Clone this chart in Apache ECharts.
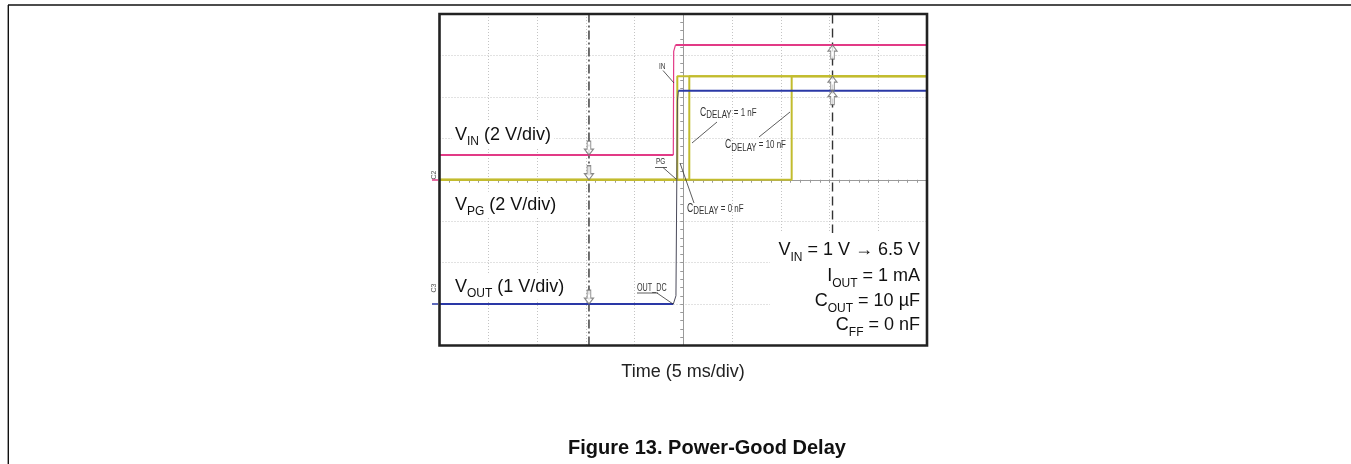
<!DOCTYPE html>
<html><head><meta charset="utf-8">
<script src="https://cdn.jsdelivr.net/npm/echarts@6/dist/echarts.min.js"></script>
<style>html,body{margin:0;padding:0;background:#fff}#c{width:1351px;height:464px}</style>
</head><body><div id="c"></div>
<script>
// ---- data (time in ms, 5 ms/div, 0 = screen centre; voltages in V) ----
const timeRange = [-25, 25];
const vinTime  = [-25, -1.02, -0.98, -0.8, 25];
const vinVolts = [1.19, 1.19, 6.2, 6.5, 6.5];
const pgDelays = ['0 nF', '1 nF', '10 nF'];
const pgRiseTime = [-0.61, 0.62, 11.12];
const pgLowHigh = [0, 5.0];
const voutTime  = [-25, -1.02, -0.75, -0.6, -0.5, 25];
const voutVolts = [0, 0, 0.2, 4.9, 5.15, 5.15];
const cursorTimes = [-9.67, 15.31];
const conditions = [
  ['V', 'IN', ' = 1 V \u2192 6.5 V'],
  ['I', 'OUT', ' = 1 mA'],
  ['C', 'OUT', ' = 10 \u00b5F'],
  ['C', 'FF', ' = 0 nF']
];
const channelLabels = [['V', 'IN', ' (2 V/div)'], ['V', 'PG', ' (2 V/div)'], ['V', 'OUT', ' (1 V/div)']];
const xAxisTitle = 'Time (5 ms/div)';
const figureTitle = 'Figure 13. Power-Good Delay';

const FONT = '"Liberation Sans", Arial, sans-serif';
const C_VIN = '#e23a86', C_PG = '#c2bc2e', C_OUT = '#2a38a6';

const zip = (a, b) => a.map((v, i) => [v, b[i]]);

const chart = echarts.init(document.getElementById('c'), null, {renderer: 'canvas'});

const G = {left: 439.5, top: 14, width: 487.5, height: 331.5};

const arrowDown = 'path://M3,0 L7,0 L7,8 L10,8 L5,14 L0,8 L3,8 Z';
const arrowUp = 'path://M5,0 L10,6 L7,6 L7,14 L3,14 L3,6 L0,6 Z';
const arrowStyle = {color: '#fff', borderColor: '#6a6a6a', borderWidth: 1.1};

const series = [];
// cursors
cursorTimes.forEach((t, i) => {
  series.push({
    type: 'line', yAxisIndex: 0, data: [[t, -8], [t, 8]], showSymbol: false, silent: true, z: 3,
    lineStyle: {color: '#333', width: 1.4, type: i === 0 ? [9, 3, 2, 3] : [9, 5]}
  });
});
// VIN: flat parts thick, fast edge thin
const vin = zip(vinTime, vinVolts);
series.push({type: 'line', name: 'VIN', yAxisIndex: 0, data: vin.slice(0, 2), showSymbol: false,
  lineStyle: {color: C_VIN, width: 2}, z: 6});
series.push({type: 'line', name: 'VIN edge', yAxisIndex: 0, data: vin.slice(1, 4), showSymbol: false,
  lineStyle: {color: C_VIN, width: 1.2}, z: 6});
series.push({type: 'line', name: 'VIN high', yAxisIndex: 0, data: vin.slice(3), showSymbol: false,
  lineStyle: {color: C_VIN, width: 2}, z: 6});
// PG
pgRiseTime.forEach((t, i) => {
  series.push({type: 'line', name: 'PG ' + pgDelays[i], yAxisIndex: 0,
    data: [[timeRange[0], pgLowHigh[0]], [t, pgLowHigh[0]], [t, pgLowHigh[1]], [timeRange[1], pgLowHigh[1]]],
    showSymbol: false, lineStyle: {color: C_PG, width: 2}, z: 5});
});
// VOUT: flat parts thick blue, fast edge thin grey
const vout = zip(voutTime, voutVolts);
series.push({type: 'line', name: 'VOUT', yAxisIndex: 1, data: vout.slice(0, 2), showSymbol: false,
  lineStyle: {color: C_OUT, width: 2}, z: 6});
series.push({type: 'line', name: 'VOUT edge', yAxisIndex: 1, data: vout.slice(1, 5), showSymbol: false,
  lineStyle: {color: '#4a4a5a', width: 1}, z: 6});
series.push({type: 'line', name: 'VOUT high', yAxisIndex: 1, data: vout.slice(4), showSymbol: false,
  lineStyle: {color: C_OUT, width: 2}, z: 6});
// cursor level arrows
series.push({type: 'scatter', yAxisIndex: 0, symbol: arrowDown, symbolSize: [9, 14], symbolOffset: [0, '-50%'],
  itemStyle: arrowStyle, z: 8,
  data: [[cursorTimes[0], vinVolts[0]], [cursorTimes[0], pgLowHigh[0]]]});
series.push({type: 'scatter', yAxisIndex: 1, symbol: arrowDown, symbolSize: [9, 14], symbolOffset: [0, '-50%'],
  itemStyle: arrowStyle, z: 8,
  data: [[cursorTimes[0], voutVolts[0]]]});
series.push({type: 'scatter', yAxisIndex: 0, symbol: arrowUp, symbolSize: [9, 14], symbolOffset: [0, '50%'],
  itemStyle: arrowStyle, z: 8,
  data: [[cursorTimes[1], vinVolts[vinVolts.length - 1]], [cursorTimes[1], pgLowHigh[1]]]});
series.push({type: 'scatter', yAxisIndex: 1, symbol: arrowUp, symbolSize: [9, 14], symbolOffset: [0, '50%'],
  itemStyle: arrowStyle, z: 8,
  data: [[cursorTimes[1], voutVolts[voutVolts.length - 1]]]});

function richSub(parts, fs, subFs) {
  return {
    text: '{m|' + parts[0] + '}{s|' + parts[1] + '}{m|' + parts[2] + '}',
    rich: {
      m: {fontSize: fs, fontFamily: FONT, lineHeight: Math.round(fs * 1.45), verticalAlign: 'middle', fill: '#111'},
      s: {fontSize: subFs, fontFamily: FONT, lineHeight: Math.round(subFs * 1.0), verticalAlign: 'bottom', fill: '#111'}
    }
  };
}

const graphics = [];
// outer page frame
graphics.push({type: 'line', z: 100, shape: {x1: 8, y1: 5, x2: 1351, y2: 5}, style: {stroke: '#111', lineWidth: 1.4}});
graphics.push({type: 'line', z: 100, shape: {x1: 8.3, y1: 5, x2: 8.3, y2: 464}, style: {stroke: '#111', lineWidth: 1.4}});
// channel labels
const labelBaselines = [141, 211, 293];
channelLabels.forEach((p, i) => {
  const r = richSub(p, 18, 12);
  graphics.push({type: 'text', z: 100, x: 452, y: labelBaselines[i] - 6.3,
    style: Object.assign({textAlign: 'left', textVerticalAlign: 'middle', backgroundColor: '#fff', padding: [0, 3]}, r)});
});
// conditions box
graphics.push({type: 'rect', z: 90, shape: {x: 770, y: 233, width: 156, height: 112}, style: {fill: '#fff'}});
const condBaselines = [256.7, 282.5, 307.5, 331.5];
conditions.forEach((p, i) => {
  const r = richSub(p, 18, 12);
  graphics.push({type: 'text', z: 100, x: 920, y: condBaselines[i] - 6.3,
    style: Object.assign({textAlign: 'right', textVerticalAlign: 'middle'}, r)});
});
// small annotations (condensed look via horizontal scale)
const SQ = 0.72;
function smallC(x, y, rest) {
  graphics.push({type: 'text', z: 100, x: x, y: y, scaleX: SQ,
    style: {text: '{c|C}{d|DELAY}{r|' + rest + '}', textAlign: 'left', textVerticalAlign: 'middle',
      rich: {c: {fontSize: 12, fontFamily: FONT, fill: '#333', lineHeight: 16, verticalAlign: 'middle'},
             d: {fontSize: 11, fontFamily: FONT, fill: '#333', lineHeight: 10, verticalAlign: 'bottom'},
             r: {fontSize: 11, fontFamily: FONT, fill: '#333', lineHeight: 16, verticalAlign: 'middle'}}}});
}
smallC(700, 112.5, ' = 1 nF');
smallC(725, 145, ' = 10 nF');
smallC(687, 208.5, ' = 0 nF');
function small(x, y, t, fs) {
  graphics.push({type: 'text', z: 100, x: x, y: y, scaleX: SQ,
    style: {text: t, fontSize: fs || 9, fontFamily: FONT, fill: '#333', textAlign: 'left', textVerticalAlign: 'middle'}});
}
small(659, 66.5, 'IN');
small(656, 162, 'PG');
small(637, 288.5, 'OUT_DC', 10);
function lead(x1, y1, x2, y2) {
  graphics.push({type: 'line', z: 100, shape: {x1, y1, x2, y2}, style: {stroke: '#333', lineWidth: 0.8}});
}
lead(655, 167.5, 667, 167.5);
lead(663, 167.5, 676, 179);
lead(663, 70.5, 674, 83);
lead(637, 293, 658, 293);
lead(657, 293, 673, 304);
lead(717, 122, 692, 143);
lead(759, 137, 790, 112);
lead(694, 203, 680, 163);
// channel ground markers
graphics.push({type: 'text', z: 100, x: 434.5, y: 175, rotation: Math.PI / 2,
  style: {text: 'C2', fontSize: 7, fontFamily: FONT, fill: '#555', textAlign: 'center', textVerticalAlign: 'middle'}});
graphics.push({type: 'text', z: 100, x: 434.5, y: 288, rotation: Math.PI / 2,
  style: {text: 'C3', fontSize: 7, fontFamily: FONT, fill: '#555', textAlign: 'center', textVerticalAlign: 'middle'}});
graphics.push({type: 'line', z: 100, shape: {x1: 432, y1: 180, x2: 438, y2: 180}, style: {stroke: C_VIN, lineWidth: 1.5}});
graphics.push({type: 'line', z: 100, shape: {x1: 432, y1: 304, x2: 438, y2: 304}, style: {stroke: C_OUT, lineWidth: 1.5}});
// plot frame
graphics.push({type: 'rect', z: 110, shape: {x: G.left, y: G.top, width: G.width, height: G.height},
  style: {fill: null, stroke: '#222', lineWidth: 2.6}});
// captions
graphics.push({type: 'text', z: 100, x: 683, y: 378 - 6.3,
  style: {text: xAxisTitle, fontSize: 18, fontFamily: FONT, fill: '#222', textAlign: 'center', textVerticalAlign: 'middle'}});
graphics.push({type: 'text', z: 100, x: 707, y: 455 - 7,
  style: {text: figureTitle, fontSize: 20, fontWeight: 'bold', fontFamily: FONT, fill: '#111', textAlign: 'center', textVerticalAlign: 'middle'}});

const gridLine = {show: true, lineStyle: {color: '#c4c4c4', width: 1, type: [1, 2]}};
const centreAxis = {show: true, onZero: true, lineStyle: {color: '#9a9a9a', width: 1}};

chart.setOption({
  animation: false,
  backgroundColor: '#fff',
  grid: Object.assign({show: false, containLabel: false}, G),
  xAxis: {type: 'value', min: timeRange[0], max: timeRange[1], interval: 5,
    axisLine: Object.assign({onZeroAxisIndex: 0}, centreAxis),
    axisTick: {show: true, length: 3, lineStyle: {color: '#9a9a9a'}},
    minorTick: {show: true, splitNumber: 5, length: 3, lineStyle: {color: '#9a9a9a'}},
    axisLabel: {show: false}, splitLine: gridLine},
  yAxis: [
    {type: 'value', min: -8, max: 8, interval: 2,
      axisLine: centreAxis,
      axisTick: {show: true, length: 3, lineStyle: {color: '#9a9a9a'}},
      minorTick: {show: true, splitNumber: 5, length: 3, lineStyle: {color: '#9a9a9a'}},
      axisLabel: {show: false}, splitLine: gridLine},
    {type: 'value', min: -1, max: 7, interval: 1, show: false, splitLine: {show: false}}
  ],
  series: series,
  graphic: graphics
});
</script></body></html>
